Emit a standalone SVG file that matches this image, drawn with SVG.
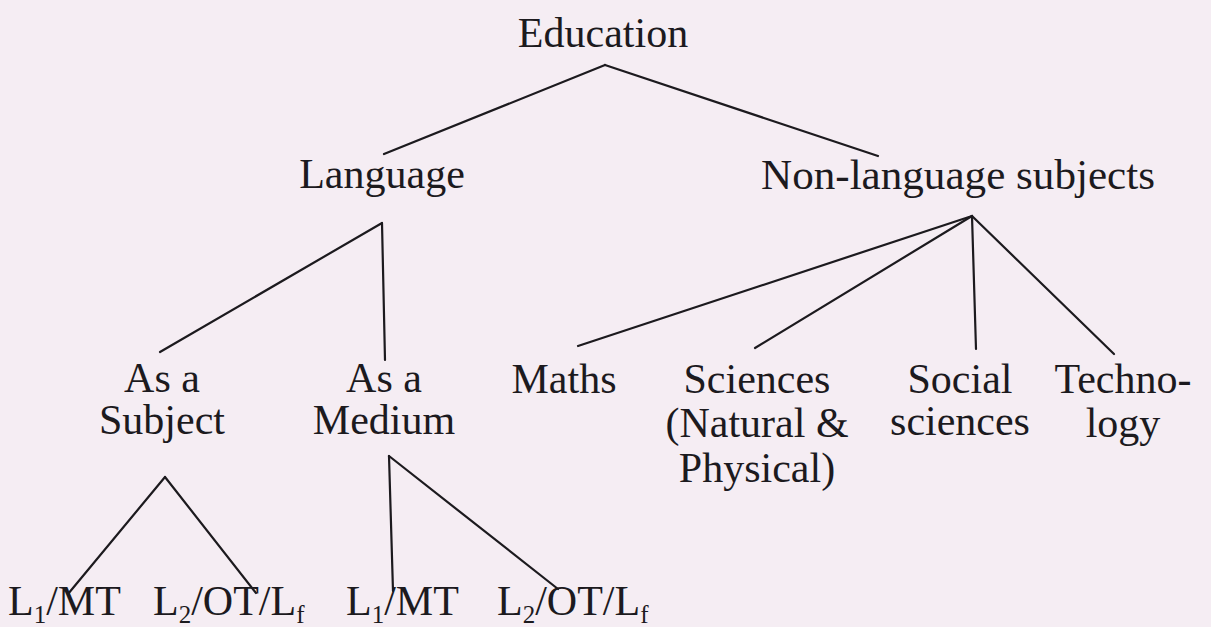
<svg xmlns="http://www.w3.org/2000/svg" width="1211" height="627" viewBox="0 0 1211 627">
<style>
text{font-size:42px;fill:#1c1a1e;text-anchor:middle}
text.l{text-anchor:start}
.sub{font-size:25px}
#connectors line{stroke:#1c1a1e;stroke-width:2.2;stroke-linecap:round}
</style>
<rect width="1211" height="627" fill="#f5edf3"/>
<g id="connectors">
<line x1="605" y1="65" x2="384" y2="154"/>
<line x1="605" y1="65" x2="878" y2="156"/>
<line x1="382" y1="223" x2="160" y2="352"/>
<line x1="382" y1="223" x2="385" y2="360"/>
<line x1="972" y1="216" x2="578" y2="346"/>
<line x1="972" y1="216" x2="755" y2="348"/>
<line x1="972" y1="216" x2="976" y2="349"/>
<line x1="972" y1="216" x2="1114" y2="354"/>
<line x1="165" y1="477" x2="68" y2="594"/>
<line x1="165" y1="477" x2="256" y2="593"/>
<line x1="389" y1="456" x2="393" y2="591"/>
<line x1="389" y1="456" x2="558" y2="589"/>
</g>
<g font-family="Liberation Serif, DejaVu Serif, serif">
<g id="education"><text x="603" y="47">Education</text></g>
<g id="language"><text x="382" y="188">Language</text></g>
<g id="nonlanguage"><text x="958" y="189" textLength="394" lengthAdjust="spacingAndGlyphs">Non-language subjects</text></g>
<g id="as-subject"><text x="162" y="392">As a</text><text x="162" y="434">Subject</text></g>
<g id="as-medium"><text x="384" y="392">As a</text><text x="384" y="434">Medium</text></g>
<g id="maths"><text x="564" y="393">Maths</text></g>
<g id="sciences"><text x="757" y="393">Sciences</text><text x="757" y="437">(Natural &amp;</text><text x="757" y="482">Physical)</text></g>
<g id="social"><text x="960" y="393">Social</text><text x="960" y="435">sciences</text></g>
<g id="technology"><text x="1123" y="393">Techno-</text><text x="1123" y="437">logy</text></g>
<g id="subj-l1"><text class="l" x="8" y="615">L<tspan class="sub" dy="8">1</tspan><tspan dy="-8">/MT</tspan></text></g>
<g id="subj-l2"><text class="l" x="153" y="615">L<tspan class="sub" dy="8">2</tspan><tspan dy="-8">/OT/L</tspan><tspan class="sub" dy="8">f</tspan></text></g>
<g id="med-l1"><text class="l" x="346" y="615">L<tspan class="sub" dy="8">1</tspan><tspan dy="-8">/MT</tspan></text></g>
<g id="med-l2"><text class="l" x="497" y="615">L<tspan class="sub" dy="8">2</tspan><tspan dy="-8">/OT/L</tspan><tspan class="sub" dy="8">f</tspan></text></g>
</g>
</svg>
